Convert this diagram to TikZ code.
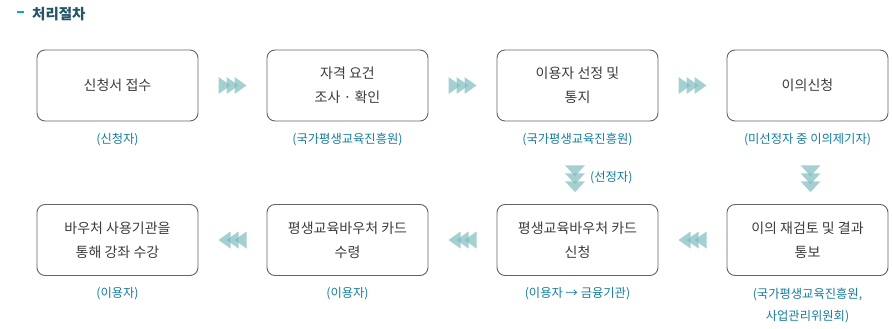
\documentclass[tikz,border=0pt]{standalone}
\usepackage{fontspec}
\setmainfont{Noto Sans CJK KR}
\usetikzlibrary{positioning,calc}
\begin{document}
\begin{tikzpicture}[x=1pt,y=-1pt]
	% Define custom colors
	\definecolor{boxline}{RGB}{100,100,100}
	\definecolor{boxtext}{RGB}{60,60,60}
	\definecolor{roletext}{RGB}{20,125,158}
	\definecolor{titletext}{RGB}{35,85,100}
	\definecolor{titledash}{RGB}{0,175,175}
	\definecolor{arrowfill}{RGB}{125,188,190}
	\tikzset{
		stepbox/.style={draw=boxline, line width=0.9pt, rounded corners=8pt, minimum width=161pt, minimum height=71pt, inner sep=0pt, align=center, text=boxtext, font=\fontsize{14}{24}\selectfont},
		role/.style={text=roletext, inner sep=0pt, align=center, font=\fontsize{12.3}{22}\selectfont},
		tri/.style={arrowfill, opacity=0.7}
	}
	\useasboundingbox (0,0) rectangle (892,329);
	% title
	\fill[titledash] (17,11.5) rectangle (24,13.5);
	\node[anchor=west, inner sep=0pt, text=titletext, font=\fontsize{14.5}{16}\selectfont\bfseries] (title) at (32,14) {처리절차};
	% steps, first row
	\node[stepbox] (apply) at (117.5,85.5) {신청서 접수};
	\node[stepbox] (check) at (347.5,85.5) {자격 요건\\조사 · 확인};
	\node[stepbox] (select) at (577.5,85.5) {이용자 선정 및\\통지};
	\node[stepbox] (object) at (807.5,85.5) {이의신청};
	% steps, second row
	\node[stepbox] (review) at (807.5,240) {이의 재검토 및 결과\\통보};
	\node[stepbox] (card) at (577.5,240) {평생교육바우처 카드\\신청};
	\node[stepbox] (receive) at (347.5,240) {평생교육바우처 카드\\수령};
	\node[stepbox] (course) at (117.5,240) {바우처 사용기관을\\통해 강좌 수강};
	% who does it
	\node[role] (applyby) at (117.5,140) {(신청자)};
	\node[role] (checkby) at (347.5,140) {(국가평생교육진흥원)};
	\node[role] (selectby) at (577.5,140) {(국가평생교육진흥원)};
	\node[role] (objectby) at (807.5,140) {(미선정자 중 이의제기자)};
	\node[role] (reviewby) at (807.5,306) {(국가평생교육진흥원,\\사업관리위원회)};
	\node[role] (cardby) at (577.5,294) {(이용자 → 금융기관)};
	\node[role] (receiveby) at (347.5,294) {(이용자)};
	\node[role] (courseby) at (117.5,294) {(이용자)};
	% arrows between steps
	\foreach \a/\b in {apply/check, check/select, select/object}
		\foreach \i in {0,1,2}
			\fill[tri] ($(\a.east)!0.5!(\b.west)+(\i*8-14,-8.5)$) -- ++(12,8.5) -- ++(-12,8.5) -- cycle;
	\foreach \a/\b in {review/card, card/receive, receive/course}
		\foreach \i in {0,1,2}
			\fill[tri] ($(\a.west)!0.5!(\b.east)+(14-\i*8,-8.5)$) -- ++(-12,8.5) -- ++(12,8.5) -- cycle;
	\foreach \a/\b/\dx in {select/card/-2.5, object/review/3}
		\foreach \i in {0,1,2}
			\fill[tri] ($(\a.south)!0.5!(\b.north)+(\dx-10,2.5+\i*8)$) -- ++(20,0) -- ++(-10,11) -- cycle;
	\node[role, anchor=west] (selected) at ($(select.south)!0.5!(card.north)+(12.5,15)$) {(선정자)};
\end{tikzpicture}
\end{document}
